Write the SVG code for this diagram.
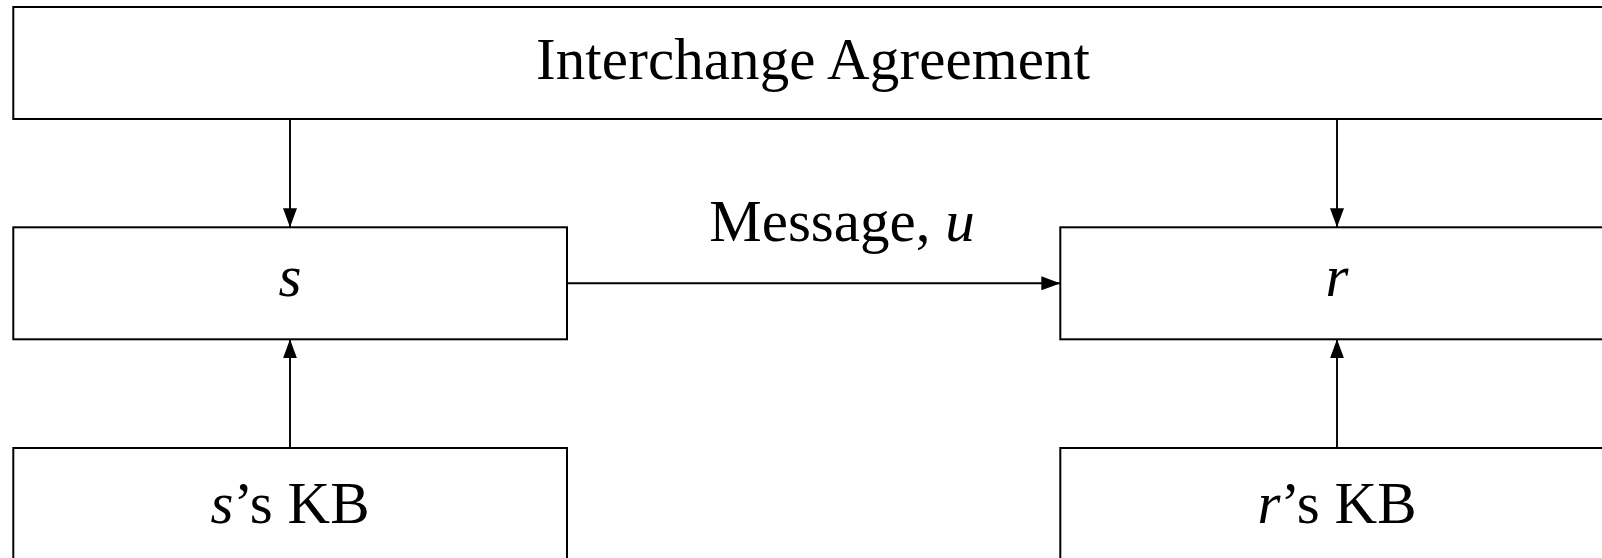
<svg xmlns="http://www.w3.org/2000/svg" width="1602" height="558" viewBox="0 0 1602 558">
  <style>
    .box { fill: #ffffff; stroke: #000000; stroke-width: 2; }
    .lbl { font-family: "Liberation Serif", "DejaVu Serif", serif; font-size: 59px; fill: #000000; text-anchor: middle; }
    .it { font-style: italic; }
    .edge { fill: none; stroke: #000000; stroke-width: 1.9; }
  </style>
  <defs>
    <marker id="arrow" viewBox="0 0 19 14" refX="19" refY="7" markerWidth="19" markerHeight="14" markerUnits="userSpaceOnUse" orient="auto">
      <path d="M0,0 L19,7 L0,14 Z" fill="#000000"/>
    </marker>
  </defs>
  <rect width="1602" height="558" fill="#ffffff"/>

  <g id="interchange">
    <rect class="box" x="13.3" y="7" width="1600" height="112"/>
    <text class="lbl" x="813" y="79" textLength="554" lengthAdjust="spacing">Interchange Agreement</text>
  </g>

  <g id="s">
    <rect class="box" x="13.3" y="227.3" width="553.7" height="112"/>
    <text class="lbl it" x="290" y="296">s</text>
  </g>

  <g id="r">
    <rect class="box" x="1060.3" y="227.3" width="553.7" height="112"/>
    <text class="lbl it" x="1337" y="296">r</text>
  </g>

  <g id="s_kb">
    <rect class="box" x="13.3" y="448" width="553.7" height="120"/>
    <text class="lbl" x="290" y="523"><tspan class="it">s</tspan>’s KB</text>
  </g>

  <g id="r_kb">
    <rect class="box" x="1060.3" y="448" width="553.7" height="120"/>
    <text class="lbl" x="1337" y="523"><tspan class="it">r</tspan>’s KB</text>
  </g>

  <g id="connectors">
    <line class="edge" x1="290" y1="119" x2="290" y2="227.3" marker-end="url(#arrow)"/>
    <line class="edge" x1="1337" y1="119" x2="1337" y2="227.3" marker-end="url(#arrow)"/>
    <line class="edge" x1="290" y1="448" x2="290" y2="339.3" marker-end="url(#arrow)"/>
    <line class="edge" x1="1337" y1="448" x2="1337" y2="339.3" marker-end="url(#arrow)"/>
    <line class="edge" x1="567" y1="283.3" x2="1060.3" y2="283.3" marker-end="url(#arrow)"/>
    <text class="lbl" x="842" y="241">Message, <tspan class="it">u</tspan></text>
  </g>
</svg>
